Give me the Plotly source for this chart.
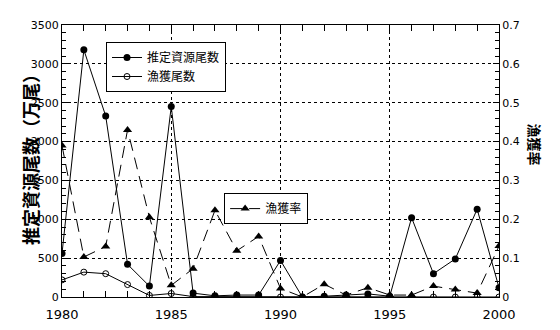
import plotly.graph_objects as go

years = list(range(1980, 2001))
stock = [560, 3180, 2330, 420, 140, 2450, 50, 15, 25, 25, 470, 0, 10, 25, 40, 10, 1020, 300, 490, 1130, 120]
catch = [220, 320, 300, 160, 20, 45, 5, 5, 5, 5, 0, 0, 0, 0, 0, 0, 0, 0, 0, 0, 0]
rate = [0.39, 0.103, 0.13, 0.43, 0.205, 0.03, 0.073, 0.223, 0.119, 0.156, 0.022, 0.0, 0.033, 0.005, 0.024, 0.005, 0.005, 0.028, 0.019, 0.01, 0.131]

font_cjk = "Noto Sans CJK JP"

fig = go.Figure()
fig.add_trace(go.Scatter(x=years, y=rate, name="漁獲率", yaxis="y2", legend="legend2",
                         mode="lines+markers",
                         line=dict(color="black", width=1, dash="12px,7px"),
                         marker=dict(symbol="triangle-up", size=8, color="black")))
fig.add_trace(go.Scatter(x=years, y=stock, name="推定資源尾数", mode="lines+markers",
                         line=dict(color="black", width=1),
                         marker=dict(symbol="circle", size=7, color="black")))
fig.add_trace(go.Scatter(x=years, y=catch, name="漁獲尾数", mode="lines+markers",
                         line=dict(color="black", width=1),
                         marker=dict(symbol="circle-open", size=6, color="black", line=dict(width=1))))

fig.update_layout(
    width=560, height=330,
    margin=dict(l=62, r=61, t=25, b=33),
    plot_bgcolor="white", paper_bgcolor="white",
    font=dict(family=font_cjk, color="black"),
    xaxis=dict(range=[1980, 2000], dtick=5, tick0=1980, ticks="inside", ticklen=6,
               tickcolor="black", showline=True, linecolor="black", linewidth=1,
               mirror="allticks", showgrid=True, gridcolor="black", griddash="dot", gridwidth=1,
               zeroline=False, tickfont=dict(family="DejaVu Sans", size=13),
               ticklabelstandoff=5, automargin=False,
               minor=dict(dtick=1, ticks="inside", ticklen=4, tickcolor="black", showgrid=False)),
    yaxis=dict(range=[0, 3500], dtick=500, ticks="inside", ticklen=6, tickcolor="black",
               showline=True, linecolor="black", linewidth=1, automargin=False,
               showgrid=True, gridcolor="black", griddash="dot", gridwidth=1,
               zeroline=False, tickfont=dict(family="DejaVu Sans", size=11),
               minor=dict(dtick=100, ticks="inside", ticklen=4, tickcolor="black", showgrid=False)),
    yaxis2=dict(range=[0, 0.7], dtick=0.1, overlaying="y", side="right",
                ticks="inside", ticklen=6, tickcolor="black", automargin=False,
                showline=True, linecolor="black", linewidth=1, showgrid=False, zeroline=False,
                tickfont=dict(family="DejaVu Sans", size=11),
                minor=dict(dtick=0.02, ticks="inside", ticklen=4, tickcolor="black")),
    legend=dict(x=0.1007, y=0.9375, xanchor="left", yanchor="top",
                bordercolor="black", borderwidth=1, bgcolor="white",
                font=dict(family=font_cjk, size=12), tracegroupgap=0, itemwidth=30),
    legend2=dict(x=0.371, y=0.382, xanchor="left", yanchor="top",
                 bordercolor="black", borderwidth=1, bgcolor="white",
                 font=dict(family=font_cjk, size=12), itemwidth=30),
    annotations=[
        dict(text="<b>推定資源尾数（万尾）</b>", xref="paper", yref="paper",
             x=-0.1076, y=0.522, textangle=-90, showarrow=False,
             font=dict(family=font_cjk, size=18)),
        dict(text="<b>漁獲率</b>", xref="paper", yref="paper",
             x=1.11, y=0.56, textangle=90, showarrow=False,
             font=dict(family=font_cjk, size=14)),
    ],
)

fig.write_html("out.html")
